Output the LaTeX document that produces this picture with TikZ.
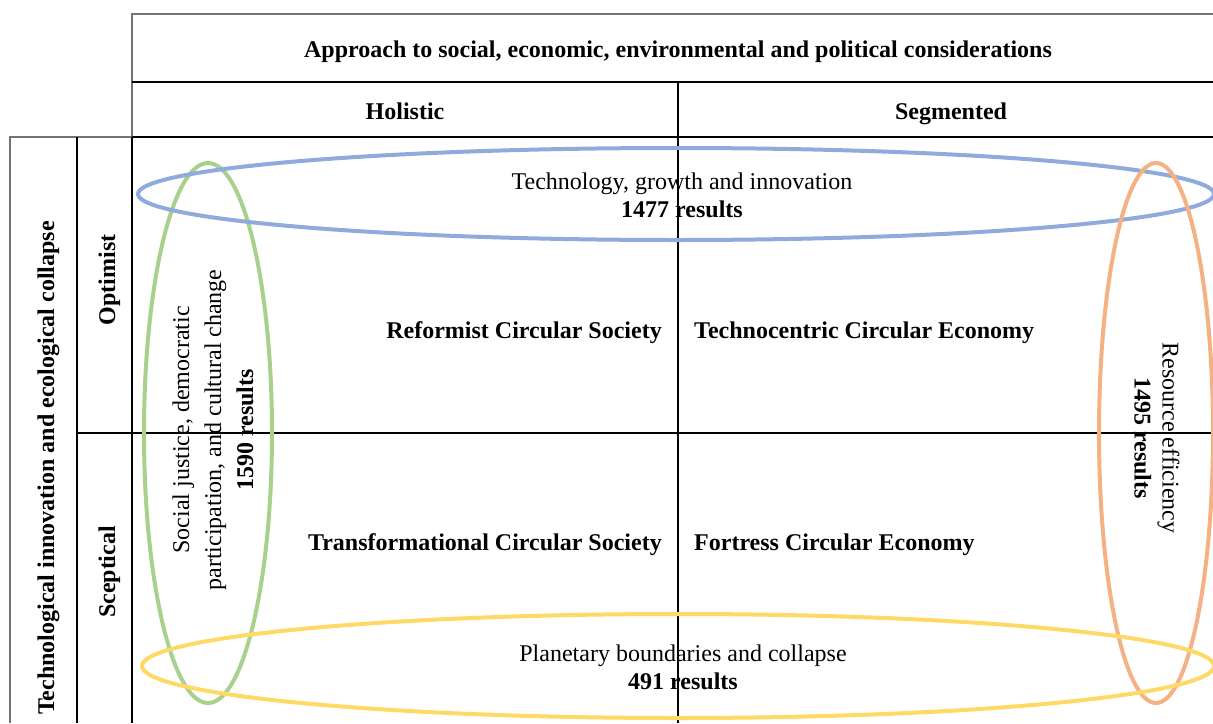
\documentclass[tikz,border=0pt]{standalone}
\usepackage{fontspec}
\setmainfont{Liberation Serif}
\definecolor{ringblue}{HTML}{8FAADC}
\definecolor{ringgreen}{HTML}{A9D18E}
\definecolor{ringorange}{HTML}{F4B183}
\definecolor{ringyellow}{HTML}{FFD966}
\begin{document}
\begin{tikzpicture}[x=1pt,y=-1pt]
\tikzstyle{faint}=[draw=black!55,line width=1.1pt]
\tikzstyle{rule}=[draw=black,line width=1.7pt]
\tikzstyle{ring}=[line width=4pt]
\tikzstyle{head}=[font=\fontsize{24}{28}\selectfont\bfseries,inner sep=0pt,anchor=base]
\tikzstyle{plain}=[font=\fontsize{24}{28}\selectfont,align=center,inner sep=0pt]
\useasboundingbox (0,0) rectangle (1213,723);
% table frame
\draw[faint] (1213,14) -- (132,14) -- (132,137);
\draw[faint] (10,723) -- (10,137) -- (132,137);
\draw[rule] (132,82) -- (1213,82);
\draw[rule] (132,137) -- (1213,137);
\draw[rule] (678,82) -- (678,723);
\draw[rule] (77,137) -- (77,723);
\draw[rule] (132,137) -- (132,723);
\draw[rule] (77,433) -- (1213,433);
% rings
\draw[ring,ringgreen] (208,433) ellipse [x radius=64pt, y radius=270pt];
\draw[ring,ringblue] (676,194) ellipse [x radius=538pt, y radius=46pt];
\draw[ring,ringorange] (1156,433) ellipse [x radius=57pt, y radius=270pt];
\draw[ring,ringyellow] (678,666) ellipse [x radius=536pt, y radius=52pt];
% headings
\node[head] (approach) at (678,57) {Approach to social, economic, environmental and political considerations};
\node[head] (holistic) at (405,119) {Holistic};
\node[head] (segmented) at (951,119) {Segmented};
\node[head,rotate=90] (axis) at (54,468) {Technological innovation and ecological collapse};
\node[head,rotate=90] (optimist) at (115,280) {Optimist};
\node[head,rotate=90] (sceptical) at (115,572) {Sceptical};
% quadrants
\node[head,anchor=base east] (reformist) at (662,338) {Reformist Circular Society};
\node[head,anchor=base west] (technocentric) at (694,338) {Technocentric Circular Economy};
\node[head,anchor=base east] (transformational) at (662,550) {Transformational Circular Society};
\node[head,anchor=base west] (fortress) at (694,550) {Fortress Circular Economy};
% ring labels
\node[plain] (growth) at (682,195) {Technology, growth and innovation\\\textbf{1477 results}};
\node[plain] (planetary) at (683,667) {Planetary boundaries and collapse\\\textbf{491 results}};
\node[plain,rotate=90,font=\fontsize{24}{32}\selectfont] (social) at (213,430) {Social justice, democratic\\participation, and cultural change\\\textbf{1590 results}};
\node[plain,rotate=-90] (resource) at (1157,438) {Resource efficiency\\\textbf{1495 results}};
\end{tikzpicture}
\end{document}
